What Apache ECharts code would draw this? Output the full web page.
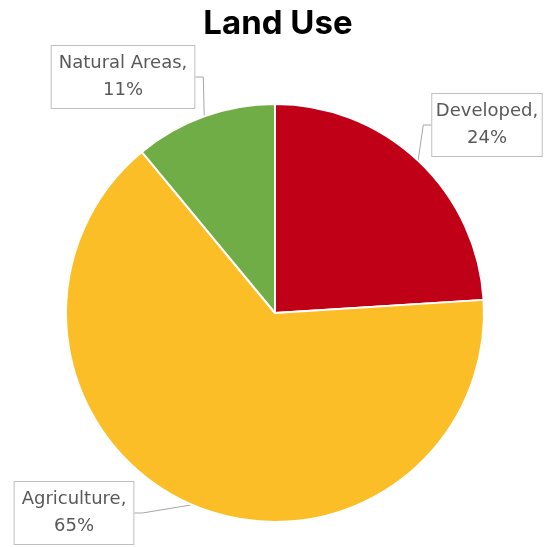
<!DOCTYPE html>
<html>
<head>
<meta charset="utf-8">
<script src="https://cdn.jsdelivr.net/npm/echarts@6/dist/echarts.min.js"></script>
<style>
  html, body { margin: 0; padding: 0; background: #fff; }
  #chart { width: 556px; height: 547px; }
</style>
</head>
<body>
<div id="chart"></div>
<script>
// 数据
var categories = ['Developed', 'Agriculture', 'Natural Areas']
var values = [24, 65, 11]
var colors = ['#C00016', '#FBBE27', '#70AD47']
// 标签框中心位置
var labelPos = [[487, 125], [74, 513], [123, 77]]

var chart = echarts.init(document.getElementById('chart'))
var option = {
    title: {
        text: 'Land Use',
        left: 'center',
        top: 3,
        textStyle: {
            fontFamily: 'Inter',
            fontSize: 33,
            fontWeight: 'bold',
            color: '#000'
        }
    },
    series: [{
        type: 'pie',
        center: [275, 313],
        radius: 209,
        startAngle: 90,
        clockwise: true,
        animation: false,
        itemStyle: {
            borderColor: '#fff',
            borderWidth: 2
        },
        label: {
            show: true,
            formatter: '{b},\n{d}%',
            fontFamily: 'DejaVu Sans',
            fontSize: 18,
            lineHeight: 27,
            color: '#595959',
            align: 'center',
            overflow: 'none',
            backgroundColor: '#fff',
            borderColor: '#bfbfbf',
            borderWidth: 1,
            padding: [4, 7]
        },
        labelLine: {
            show: true,
            length: 8,
            length2: 8,
            lineStyle: { color: '#a6a6a6', width: 1 }
        },
        labelLayout: function(params) {
            var p = labelPos[params.dataIndex]
            return { x: p[0], y: p[1], align: 'center', verticalAlign: 'middle' }
        },
        data: categories.map(function(c, i) {
            return { name: c, value: values[i], itemStyle: { color: colors[i] } }
        })
    }]
}
chart.setOption(option)
</script>
</body>
</html>
